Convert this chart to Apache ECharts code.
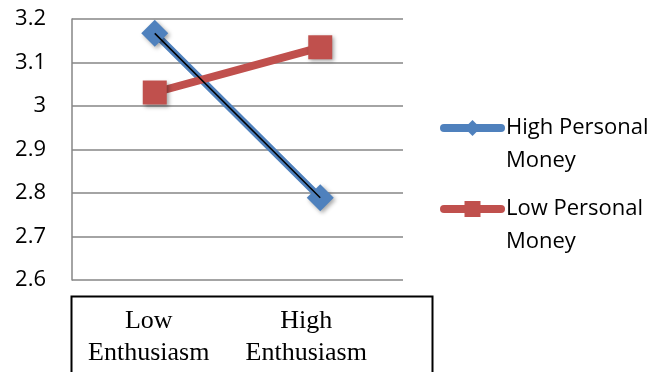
<!DOCTYPE html>
<html>
<head>
<meta charset="utf-8">
<script src="https://cdn.jsdelivr.net/npm/echarts@6/dist/echarts.min.js"></script>
<style>
  html, body { margin: 0; padding: 0; background: #fff; }
  #chart { width: 653px; height: 372px; }
</style>
</head>
<body>
<div id="chart"></div>
<script>
// Category labels along the x axis
const categories = ['Low\nEnthusiasm', 'High\nEnthusiasm'];
// Mean scores per group
const highPersonalMoney = [3.167, 2.789];
const lowPersonalMoney = [3.031, 3.135];
// Value axis range
const yMin = 2.6;
const yMax = 3.2;
const yStep = 0.1;

const seriesNames = ['High Personal\nMoney', 'Low Personal\nMoney'];
const blue = '#4F81BD';
const red = '#C0504D';
const sans = '"Open Sans", "Liberation Sans", sans-serif';
const serif = '"Liberation Serif", "DejaVu Serif", serif';

const markerShadow = {
  shadowBlur: 4,
  shadowColor: 'rgba(0,0,0,0.35)',
  shadowOffsetX: 2,
  shadowOffsetY: 2
};

// One legend block per series; a leading blank line keeps the first
// text line level with the icon.
function legendFor(name, top) {
  return {
    data: [name],
    left: 440,
    top: top,
    padding: 0,
    orient: 'vertical',
    itemWidth: 57,
    itemHeight: 20,
    itemGap: 5,
    selectedMode: false,
    formatter: n => '\n' + n,
    lineStyle: { width: 8, cap: 'round' },
    itemStyle: { shadowBlur: 0, shadowOffsetX: 0, shadowOffsetY: 0 },
    textStyle: {
      fontFamily: sans,
      fontSize: 22,
      color: '#000',
      lineHeight: 33
    }
  };
}

const chart = echarts.init(document.getElementById('chart'));
chart.setOption({
  animation: false,
  backgroundColor: '#fff',
  grid: { left: 72, top: 19, right: 250, bottom: 92, containLabel: false },
  legend: [legendFor(seriesNames[0], 78.5), legendFor(seriesNames[1], 159.5)],
  graphic: [{
    type: 'rect',
    left: 69,
    top: 294,
    shape: { width: 361, height: 100 },
    style: { fill: 'none', stroke: '#000', lineWidth: 2 },
    silent: true
  }],
  xAxis: {
    type: 'category',
    data: categories,
    boundaryGap: true,
    axisLine: { show: false },
    axisTick: { show: false },
    splitLine: { show: false },
    axisLabel: {
      margin: 25,
      formatter: (value, index) =>
        value.split('\n').map(line => '{c' + index + '|' + line + '}').join('\n'),
      rich: {
        c0: { fontFamily: serif, fontSize: 26, lineHeight: 32, color: '#000', padding: [0, 12, 0, 0] },
        c1: { fontFamily: serif, fontSize: 26, lineHeight: 32, color: '#000', padding: [0, 28, 0, 0] }
      }
    }
  },
  yAxis: {
    type: 'value',
    min: yMin,
    max: yMax,
    interval: yStep,
    axisLine: { show: true, lineStyle: { color: '#868686', width: 1.5 } },
    axisTick: { show: false },
    splitLine: { show: true, lineStyle: { color: '#868686', width: 1.5 } },
    axisLabel: {
      margin: 26,
      fontFamily: sans,
      fontSize: 22,
      color: '#000',
      formatter: v => String(+v.toFixed(1))
    }
  },
  series: [
    {
      name: seriesNames[0],
      type: 'line',
      data: highPersonalMoney,
      symbol: 'diamond',
      symbolSize: 27,
      lineStyle: { color: blue, width: 7, cap: 'round' },
      itemStyle: Object.assign({ color: blue }, markerShadow),
      z: 2
    },
    {
      name: seriesNames[1],
      type: 'line',
      data: lowPersonalMoney,
      symbol: 'rect',
      symbolSize: 24,
      lineStyle: { color: red, width: 8, cap: 'round' },
      itemStyle: Object.assign({ color: red }, markerShadow),
      z: 3
    },
    {
      name: 'High Personal Money centre line',
      type: 'line',
      data: highPersonalMoney,
      symbol: 'none',
      lineStyle: { color: '#000', width: 1.5 },
      z: 4
    }
  ]
});
</script>
</body>
</html>
